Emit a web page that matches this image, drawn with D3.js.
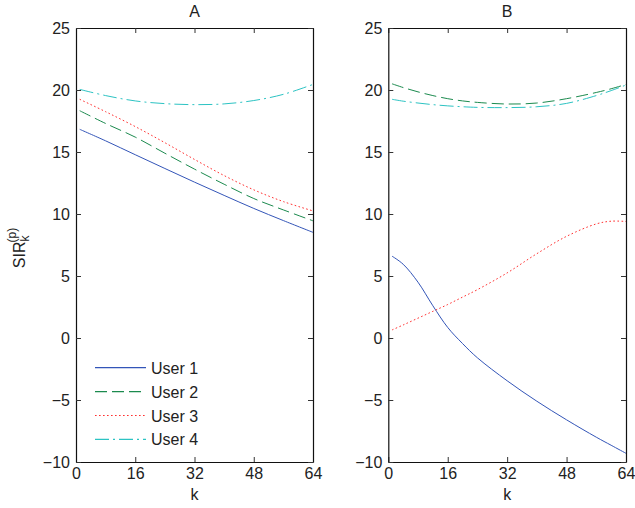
<!DOCTYPE html>
<html>
    <head>
        <meta charset="utf-8">
        <script src="https://d3js.org/d3.v7.min.js"></script>
        <style>
            body { margin:0; background:#fff; }
            text { font-family: "Liberation Sans", Arial, sans-serif; fill:#222; }
        </style>
    </head>

    <body>
        <script>
            // subcarrier index for each panel
            var kA = [1, 8, 16, 24, 32, 40, 48, 56, 64];
            var kB = [1, 4, 8, 12, 16, 20, 24, 32, 40, 48, 56, 60, 64];

            var users = ["User 1", "User 2", "User 3", "User 4"];

            // panel A, SIR per user (dB)
            var a_user1 = [16.83, 15.9, 14.78, 13.67, 12.57, 11.5, 10.45, 9.47, 8.52];
            var a_user2 = [18.33, 17.3, 16.2, 14.9, 13.62, 12.4, 11.25, 10.33, 9.45];
            var a_user3 = [19.25, 18.25, 17.05, 15.75, 14.4, 13.1, 11.95, 11.0, 10.25];
            var a_user4 = [20.05, 19.55, 19.12, 18.9, 18.82, 18.88, 19.15, 19.65, 20.45];

            // panel B
            var b_user1 = [6.6, 5.95, 4.5, 2.6, 0.85, -0.45, -1.6, -3.45, -5.1, -6.6, -8.0, -8.65, -9.3];
            var b_user2 = [20.5, 20.2, 19.85, 19.55, 19.3, 19.12, 19.0, 18.87, 18.95, 19.3, 19.8, 20.1, 20.45];
            var b_user3 = [0.65, 1.05, 1.6, 2.15, 2.7, 3.3, 3.9, 5.25, 6.8, 8.2, 9.2, 9.42, 9.4];
            var b_user4 = [19.25, 19.1, 18.95, 18.82, 18.72, 18.65, 18.6, 18.58, 18.65, 18.92, 19.55, 19.95, 20.4];

            var xTicks = [0, 16, 32, 48, 64];
            var yTicks = [-10, -5, 0, 5, 10, 15, 20, 25];

            var colors = ["#3355b8", "#1b8a4e", "#ff3030", "#2cc3c3"];
            var dashes = [null, "12,5", "1.6,2.4", "14,4,2,4"];

            var width = 635, height = 508;
            var plotTop = 28, plotBottom = 462;

            var svg = d3.select("body").append("svg")
                    .attr("width", width)
                    .attr("height", height);

            var y = d3.scaleLinear().domain([-10, 25]).range([plotBottom, plotTop]);

            var panels = [
                {title: "A", left: 76, right: 313, k: kA, series: [a_user1, a_user2, a_user3, a_user4]},
                {title: "B", left: 388.3, right: 626, k: kB, series: [b_user1, b_user2, b_user3, b_user4]}
            ];

            panels.forEach(function (p, pi) {
                var x = d3.scaleLinear().domain([0, 64]).range([p.left, p.right]);
                var g = svg.append("g");

                var line = d3.line()
                        .x(function (d, i) { return x(p.k[i]); })
                        .y(function (d) { return y(d); })
                        .curve(d3.curveCatmullRom.alpha(0.5));

                p.series.forEach(function (s, si) {
                    g.append("path")
                            .attr("d", line(s))
                            .attr("fill", "none")
                            .attr("stroke", colors[si])
                            .attr("stroke-width", 1)
                            .attr("stroke-dasharray", dashes[si]);
                });

                // axes, MATLAB style box with inward ticks
                var axes = [
                    {ax: d3.axisBottom(x).tickValues(xTicks), tr: "translate(0," + plotBottom + ")", lab: true},
                    {ax: d3.axisTop(x).tickValues(xTicks), tr: "translate(0," + plotTop + ")", lab: false},
                    {ax: d3.axisLeft(y).tickValues(yTicks), tr: "translate(" + p.left + ",0)", lab: true},
                    {ax: d3.axisRight(y).tickValues(yTicks), tr: "translate(" + p.right + ",0)", lab: false}
                ];
                axes.forEach(function (a) {
                    a.ax.tickSizeInner(-5).tickSizeOuter(0).tickPadding(6);
                    if (!a.lab) a.ax.tickFormat("");
                    var ag = g.append("g").attr("transform", a.tr).call(a.ax);
                    ag.select(".domain").attr("stroke", "#111").attr("stroke-width", 1.2);
                    ag.selectAll(".tick line").attr("stroke", "#333");
                    ag.selectAll("text").attr("font-size", 16)
                            .style("font-family", "'Liberation Sans', Arial, sans-serif")
                            .attr("fill", "#222");
                });

                g.append("text")
                        .attr("x", (p.left + p.right) / 2)
                        .attr("y", 17)
                        .attr("text-anchor", "middle")
                        .attr("font-size", 16)
                        .text(p.title);

                g.append("text")
                        .attr("x", (p.left + p.right) / 2)
                        .attr("y", 500)
                        .attr("text-anchor", "middle")
                        .attr("font-size", 16)
                        .text("k");

                if (pi === 0) {
                    // legend
                    users.forEach(function (u, i) {
                        var ly = 367.7 + i * 23.9;
                        g.append("line")
                                .attr("x1", 95).attr("x2", 146)
                                .attr("y1", ly).attr("y2", ly)
                                .attr("stroke", colors[i])
                                .attr("stroke-width", 1.2)
                                .attr("stroke-dasharray", dashes[i]);
                        g.append("text")
                                .attr("x", 151)
                                .attr("y", ly + 6)
                                .attr("font-size", 16)
                                .text(u);
                    });
                }
            });

            // y label SIR_k^(p)
            var yl = svg.append("text")
                    .attr("transform", "translate(25,248) rotate(-90)")
                    .attr("text-anchor", "middle")
                    .attr("font-size", 16);
            yl.append("tspan").text("SIR");
            yl.append("tspan").attr("font-size", 12).attr("dy", 4).text("k");
            yl.append("tspan").attr("font-size", 12).attr("dx", -7).attr("dy", -13).text("(p)");
        </script>
    </body>
</html>
